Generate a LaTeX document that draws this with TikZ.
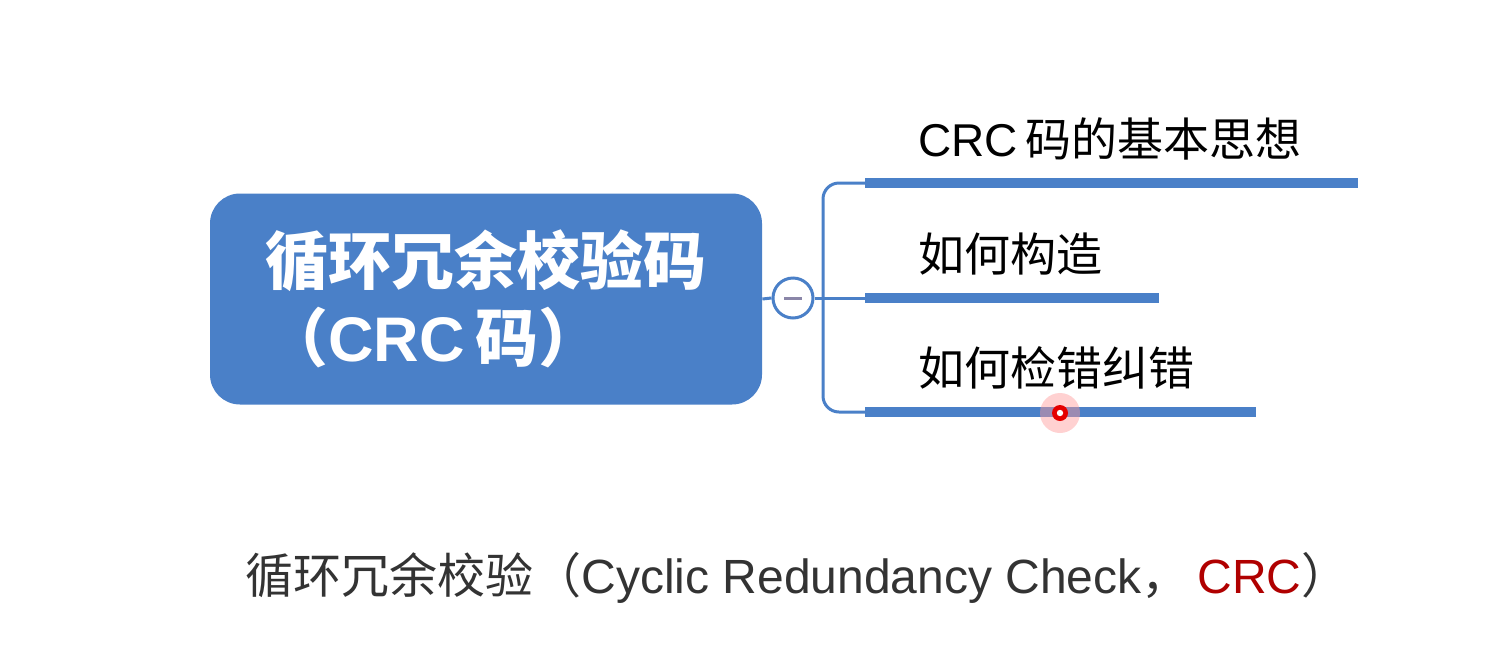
\documentclass[tikz,border=0pt]{standalone}
\usepackage{fontspec}
\setmainfont{Liberation Sans}
\newfontfamily\cjk{Noto Sans CJK SC}
\newfontfamily\latin{Liberation Sans}
\usetikzlibrary{shapes,arrows}
\definecolor{mapblue}{HTML}{4A80C8}
\definecolor{minusgray}{HTML}{8A86A8}
\definecolor{notegray}{HTML}{333333}
\definecolor{crcred}{HTML}{B00000}
\tikzset{
  rootbox/.style={fill=mapblue,rounded corners=15pt,minimum width=276pt,minimum height=105.5pt,
    inner sep=0pt,align=left,text=white,font=\cjk\bfseries\fontsize{31.5}{38.5}\selectfont},
  btn/.style={circle,draw=mapblue,line width=1.5pt,fill=white,minimum size=20pt,inner sep=0pt},
  topic/.style={anchor=south west,inner xsep=0pt,inner ysep=0pt,text depth=13pt,text width=#1,
    align=left,execute at begin node=\hspace*{26.5pt},font=\cjk\fontsize{23}{26}\selectfont},
  link/.style={draw=mapblue,line width=1.5pt},
  bar/.style={draw=mapblue,line width=5pt}
}
\begin{document}
\begin{tikzpicture}[auto,>=latex',x=0.5pt,y=-0.5pt]
\fill[white](0,0)rectangle(1510,649);
\node[rootbox](root)at(486,299){循环冗余校验码\\（{\latin\bfseries CRC}\,码）};
\node[btn](btn)at(793,298){\color{minusgray}\rule{9pt}{1.5pt}};
\coordinate(fork)at(823,298);
\node[topic=246pt](t1)at(865,183){{\latin CRC}\,码的基本思想};
\node[topic=146.5pt](t2)at(865,298){如何构造};
\node[topic=195pt](t3)at(865,412){如何检错纠错};
\foreach \t in {t1,t2,t3}{\draw[bar](\t.south west)--(\t.south east);}
\draw[link](root.east)--(btn.west);
\draw[link](btn.east)--(t2.south west);
\draw[link,rounded corners=8pt](fork)|-(t1.south west);
\draw[link,rounded corners=8pt](fork)|-(t3.south west);
% pointer
\fill[red!40,opacity=.45](1060,413)circle(10pt);
\fill[red!90!black](1060,413)circle(4pt);
\fill[white](1060,413)circle(1.6pt);
\node[anchor=west,inner sep=0pt,text=notegray,font=\fontsize{24}{27}\selectfont](note)at(245,578)
  {{\cjk 循环冗余校验（}Cyclic Redundancy Check{\cjk ，}\hspace{4pt}{\color{crcred}CRC}{\cjk ）}};
\end{tikzpicture}
\end{document}
